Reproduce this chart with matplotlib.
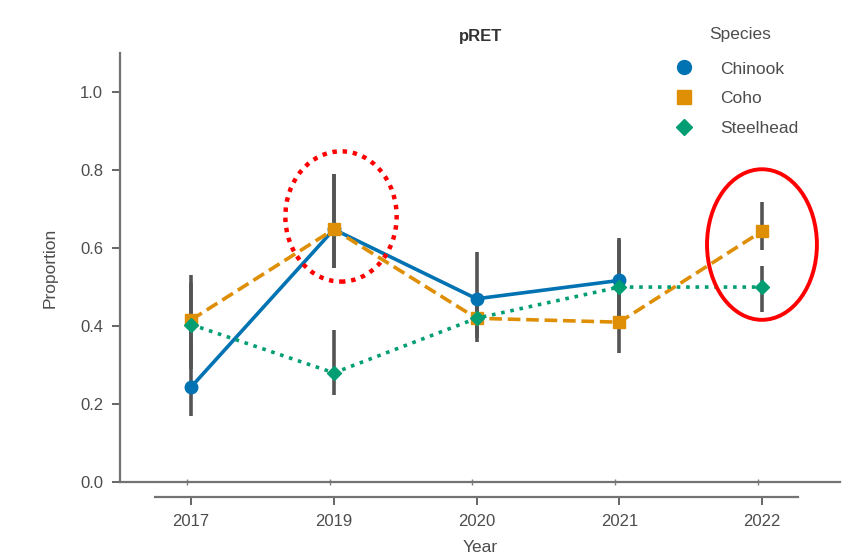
import numpy as np
import matplotlib.pyplot as plt
from matplotlib.patches import Ellipse
from matplotlib.lines import Line2D

plt.rcParams['font.family'] = ['Liberation Sans', 'DejaVu Sans']

years = ['2017', '2019', '2020', '2021', '2022']
species = ['Chinook', 'Coho', 'Steelhead']

# mean proportion per year, with lower/upper interval
chinook = [0.244, 0.648, 0.47, 0.517, np.nan]
chinook_lo = [0.17, 0.55, 0.38, 0.42, np.nan]
chinook_hi = [0.35, 0.79, 0.59, 0.62, np.nan]

coho = [0.416, 0.648, 0.42, 0.41, 0.643]
coho_lo = [0.31, 0.55, 0.36, 0.33, 0.596]
coho_hi = [0.53, 0.79, 0.48, 0.50, 0.717]

steelhead = [0.404, 0.28, 0.42, 0.50, 0.50]
steelhead_lo = [0.29, 0.224, 0.37, 0.40, 0.437]
steelhead_hi = [0.51, 0.39, 0.47, 0.627, 0.553]

colors = ['#0173b2', '#de8f05', '#029e73']
markers = ['o', 's', 'D']
msizes = [9, 8.5, 7]
styles = ['-', (0, (3.5, 1.6)), (0, (1, 1.6))]

means = [chinook, coho, steelhead]
los = [chinook_lo, coho_lo, steelhead_lo]
his = [chinook_hi, coho_hi, steelhead_hi]

fig = plt.figure(figsize=(8.62, 5.58), dpi=100)
ax = fig.add_axes([0.139, 0.136, 0.836, 0.769])
x = np.arange(len(years))

for m, lo, hi, c, mk, ms, ls in zip(means, los, his, colors, markers, msizes, styles):
    ax.vlines(x, lo, hi, color='0.33', lw=2.6, zorder=2)
    ax.plot(x, m, color=c, ls=ls, lw=2.6, marker=mk, ms=ms, zorder=3)

ax.set_xlim(-0.5, 4.55)
ax.set_ylim(0, 1.1)
ax.set_yticks([0.0, 0.2, 0.4, 0.6, 0.8, 1.0])
ax.set_yticklabels(['0.0', '0.2', '0.4', '0.6', '0.8', '1.0'])
ax.set_xticks(x)
ax.set_xticklabels(years)

for s in ['top', 'right']:
    ax.spines[s].set_visible(False)
ax.spines['left'].set_color('0.45')
ax.spines['left'].set_linewidth(1.6)
ax.spines['bottom'].set_position(('outward', 11))
ax.spines['bottom'].set_bounds(-0.25, 4.25)
ax.spines['bottom'].set_color('0.45')
ax.spines['bottom'].set_linewidth(1.6)
ax.tick_params(axis='both', colors='0.35', labelcolor='0.3', labelsize=12,
               width=1.3, length=6, pad=6)

# baseline at zero with small marks
base = ax.secondary_xaxis('bottom')
base.set_xticks(x - 0.03)
base.set_xticklabels([])
base.tick_params(direction='inout', length=5, width=1.0, colors='0.5')
base.spines['bottom'].set_color('0.45')
base.spines['bottom'].set_linewidth(1.6)

ax.set_xlabel('Year', color='0.3', fontsize=12.5, labelpad=8)
ax.set_ylabel('Proportion', color='0.3', fontsize=12.5, labelpad=16)
ax.set_title('pRET', fontsize=12, fontweight='bold', color='0.2', pad=9)

# legend, with its heading set a little apart from the entries
fig.text(0.859, 0.939, 'Species', ha='center', va='center', fontsize=12.5,
         color='0.3')
handles = [Line2D([], [], ls='none', marker=mk, color=c, ms=ms + 1)
           for c, mk, ms in zip(colors, markers, msizes)]
leg = fig.legend(handles, species, loc='upper left',
                 bbox_to_anchor=(0.755, 0.918), frameon=False, fontsize=12.5,
                 handletextpad=1.1, labelspacing=0.83)
for t in leg.get_texts():
    t.set_color('0.3')

# highlight rings
ax.add_patch(Ellipse((1.05, 0.681), 0.78, 0.334, fill=False, ec='red', lw=3.2,
                     ls=(0, (1, 1.3)), clip_on=False, zorder=5))
ax.add_patch(Ellipse((4.0, 0.609), 0.77, 0.386, fill=False, ec='red', lw=2.8,
                     clip_on=False, zorder=5))

fig.savefig('out.png', dpi=100)
